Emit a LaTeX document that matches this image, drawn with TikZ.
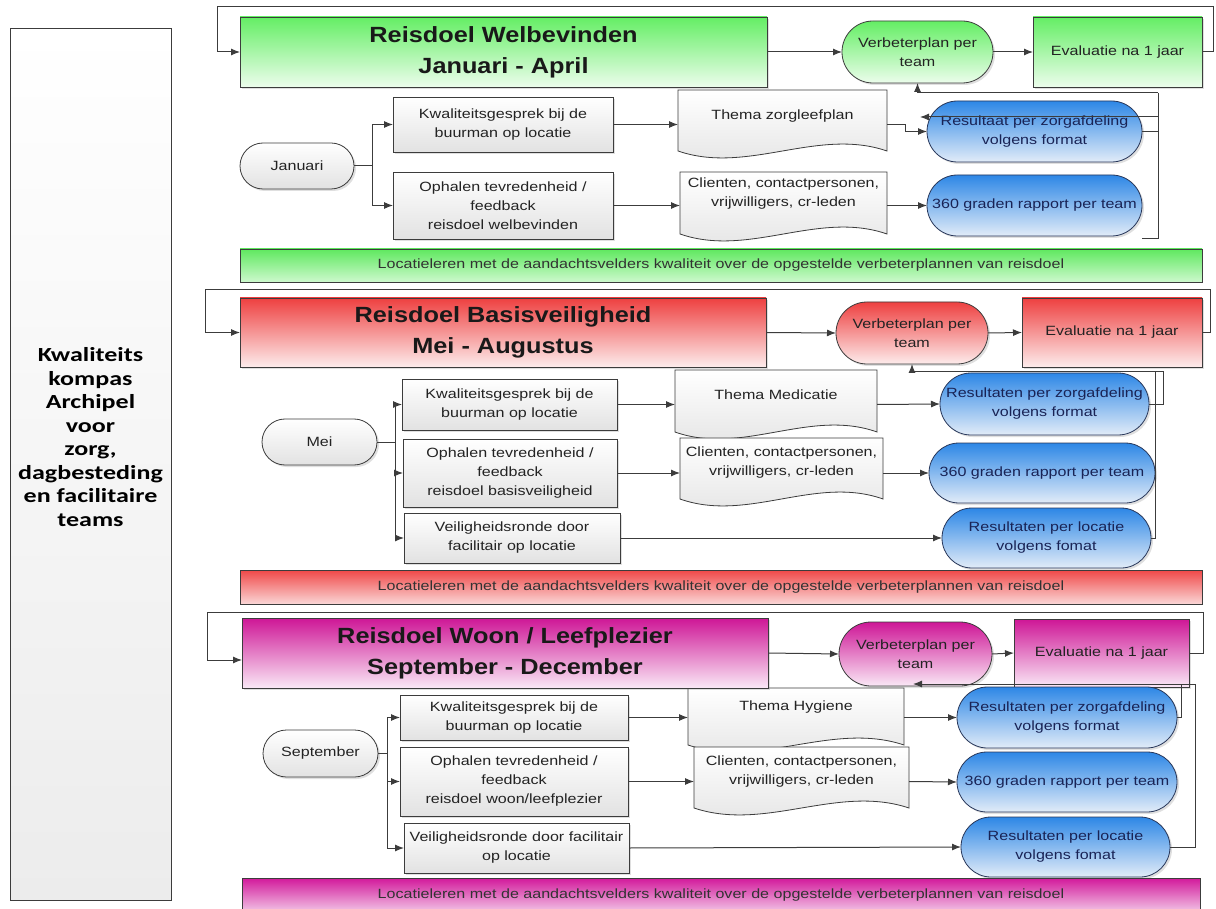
\documentclass[tikz,border=0pt]{standalone}
\usepackage{fontspec}
\setmainfont{Liberation Sans}
\newfontfamily\boxfont{Liberation Sans}[FakeStretch=1.2]
\newfontfamily\titlefont{Liberation Sans}[FakeStretch=1.15]
\newfontfamily\sidefont{Carlito}[FakeStretch=1.3]
\usetikzlibrary{shapes.misc,arrows.meta,shadows,calc}
\pgfdeclarelayer{back}
\pgfdeclarelayer{bg}
\pgfsetlayers{back,bg,main}
\definecolor{linec}{RGB}{60,60,60}
\definecolor{txt}{RGB}{35,35,35}
\definecolor{boxbot}{RGB}{226,226,226}
\definecolor{gT}{RGB}{100,238,100}\definecolor{gB}{RGB}{236,253,236}
\definecolor{rT}{RGB}{238,64,64}\definecolor{rB}{RGB}{253,236,236}
\definecolor{mT}{RGB}{206,22,150}\definecolor{mB}{RGB}{250,232,246}
\definecolor{bT}{RGB}{45,135,230}\definecolor{bB}{RGB}{226,236,248}
\definecolor{bline}{RGB}{40,55,90}
\definecolor{btxt}{RGB}{25,35,85}
\definecolor{gbT}{RGB}{95,232,95}\definecolor{gbB}{RGB}{205,249,205}
\definecolor{rbT}{RGB}{240,72,72}\definecolor{rbB}{RGB}{250,214,214}
\definecolor{mbT}{RGB}{210,25,155}\definecolor{mbB}{RGB}{242,198,230}
\newcommand{\docshape}[3]{%
\begin{pgfonlayer}{bg}
\coordinate (dsT) at (0,#2);
\coordinate (dsR) at (#1.east |- dsT);
\coordinate (dsL) at (#1.west |- dsT);
\shade[top color=white,bottom color=boxbot,draw=linec,line width=0.8pt]
 (#1.north west) -- (#1.north east) -- (dsR)
 .. controls ($(dsR)!0.333!(dsL)+(0,-#3)$) and ($(dsR)!0.667!(dsL)+(0,#3)$) .. (dsL) -- cycle;
\end{pgfonlayer}}
\tikzset{
 every node/.style={inner sep=0pt, outer sep=0pt, align=center, text=txt,
   font=\boxfont\fontsize{13.4}{19}\selectfont},
 line/.style={draw=linec, line width=1pt},
 arr/.style={line, -{Latex[length=9pt,width=7pt]}},
 shad/.style={drop shadow={shadow xshift=2pt, shadow yshift=-2pt, opacity=0.25}},
 gbox/.style={rectangle, draw=linec, line width=0.8pt, top color=white, bottom color=boxbot, shad},
 gstad/.style={gbox},
 doc/.style={rectangle, draw=none},
 bstad/.style={rectangle, draw=bline, line width=0.8pt, top color=bT, bottom color=bB, text=btxt, shad},
 tbox/.style={rectangle, draw=linec, line width=0.8pt, text={rgb,255:red,25;green,25;blue,25},
   font=\titlefont\bfseries\fontsize{22}{31}\selectfont, shad},
 ebox/.style={rectangle, draw=linec, line width=0.8pt, shad},
 stad/.style={rectangle, draw=linec, line width=0.8pt, shad},
 bar/.style={rectangle, draw=linec, line width=0.8pt, text={rgb,255:red,50;green,50;blue,50}},
 greenfill/.style={top color=gT, bottom color=gB},
 redfill/.style={top color=rT, bottom color=rB},
 magfill/.style={top color=mT, bottom color=mB},
 greenbar/.style={top color=gbT, bottom color=gbB},
 redbar/.style={top color=rbT, bottom color=rbB},
 magbar/.style={top color=mbT, bottom color=mbB},
}
\begin{document}
\begin{tikzpicture}[x=1pt,y=-1pt]
\begin{pgfonlayer}{back}
\fill[white] (0,0) rectangle (1216,909);
\end{pgfonlayer}
\useasboundingbox (0,0) rectangle (1216,909);

% left panel
\node[rectangle, draw=linec, line width=0.8pt, top color=white, bottom color={rgb,255:red,236;green,236;blue,236},
  minimum width=161pt, minimum height=872pt] (L) at (90.5,464) {};
\node[font=\sidefont\bfseries\fontsize{20}{23.5}\selectfont, text=black] (Lt) at ($(L.center)+(0,-27)$)
  {Kwaliteits\\kompas\\Archipel\\voor\\zorg,\\dagbesteding\\en facilitaire\\teams};

% ================= Section 1 =================
\node[tbox, greenfill, minimum width=527pt, minimum height=70pt] (T1) at (503.5,52) {Reisdoel Welbevinden\\Januari - April};
\node[stad, greenfill, minimum width=151pt, minimum height=62pt, rounded corners=31pt] (V1) at (917.5,52) {Verbeterplan per\\team};
\node[ebox, greenfill, minimum width=169pt, minimum height=70pt] (E1) at (1117.5,52) {Evaluatie na 1 jaar};
\node[gstad, minimum width=114pt, minimum height=46pt, rounded corners=23pt] (J1) at (297,166) {Januari};
\node[gbox, minimum width=220pt, minimum height=55pt] (K1) at (503,124.5) {Kwaliteitsgesprek bij de\\buurman op locatie};
\node[gbox, minimum width=220pt, minimum height=67pt] (O1) at (503,205.5) {Ophalen tevredenheid /\\feedback\\reisdoel welbevinden};
\node[doc, minimum width=209pt, minimum height=52pt] (D1) at (782.5,116) {Thema zorgleefplan};
\node[doc, minimum width=207pt, minimum height=44pt] (D2) at (783.5,194) {Clienten, contactpersonen,\\vrijwilligers, cr-leden};
\docshape{D1}{151}{24}
\docshape{D2}{234}{24}
\node[bstad, minimum width=215pt, minimum height=61pt, rounded corners=30.5pt] (R1) at (1034.5,131.5) {Resultaat per zorgafdeling\\volgens format};
\node[bstad, minimum width=215pt, minimum height=61pt, rounded corners=30.5pt] (G1) at (1034.5,205.5) {360 graden rapport per team};
\node[bar, greenbar, minimum width=962pt, minimum height=33pt] (B1) at (721,265.5) {Locatieleren met de aandachtsvelders kwaliteit over de opgestelde verbeterplannen van reisdoel};

\coordinate (c1a) at (1213,7); \coordinate (c1b) at (217,7);
\draw[arr] (E1.east) -| (c1a) -- (c1b) |- (T1.west);
\draw[arr] (T1.east) -- (V1.west);
\draw[arr] (V1.east) -- (E1.west);
\coordinate (j1) at (372,166);
\draw[arr] (J1.east) -- (j1) |- (K1.west);
\draw[arr] (j1) |- (O1.west);
\draw[arr] (K1.east) -- (K1.east -| D1.west);
\draw[arr] (O1.east) -- (O1.east -| D2.west);
\coordinate (d1r) at (905,124.5);
\draw[arr] (K1.east -| D1.east) -- (d1r) |- (R1.west);
\draw[arr] (O1.east -| D2.east) -- (G1.west);
\coordinate (f1t) at (1158,93); \coordinate (f1b) at (1158,239);
\coordinate (f1m) at (1158,117); \coordinate (f1e) at (920,117);
\draw[line] (R1.east) -- (R1.east -| f1t);
\draw[line] (f1b -| G1.east) -- (f1b) -- (f1t);
\draw[arr] (f1t) -| (V1.south);
\draw[arr] (f1m) -- (f1e);

% ================= Section 2 =================
\node[tbox, redfill, minimum width=526pt, minimum height=69pt] (T2) at (503,332.5) {Reisdoel Basisveiligheid\\Mei - Augustus};
\node[stad, redfill, minimum width=152pt, minimum height=62pt, rounded corners=31pt] (V2) at (912,333) {Verbeterplan per\\team};
\node[ebox, redfill, minimum width=180pt, minimum height=69pt] (E2) at (1112,332.5) {Evaluatie na 1 jaar};
\node[gstad, minimum width=115pt, minimum height=46pt, rounded corners=23pt] (M2) at (319.5,442) {Mei};
\node[gbox, minimum width=215pt, minimum height=51pt] (K2) at (509.5,404.5) {Kwaliteitsgesprek bij de\\buurman op locatie};
\node[gbox, minimum width=214pt, minimum height=68pt] (O2) at (510,473) {Ophalen tevredenheid /\\feedback\\reisdoel basisveiligheid};
\node[gbox, minimum width=216pt, minimum height=50pt] (S2) at (512,538) {Veiligheidsronde door\\facilitair op locatie};
\node[doc, minimum width=202pt, minimum height=50pt] (D3) at (776,395) {Thema Medicatie};
\node[doc, minimum width=203pt, minimum height=50pt] (D4) at (781.5,463) {Clienten, contactpersonen,\\vrijwilligers, cr-leden};
\docshape{D3}{432}{24}
\docshape{D4}{499}{24}
\node[bstad, minimum width=209pt, minimum height=62pt, rounded corners=31pt] (R2) at (1044.5,404) {Resultaten per zorgafdeling\\volgens format};
\node[bstad, minimum width=226pt, minimum height=60pt, rounded corners=30pt] (G2) at (1042,473) {360 graden rapport per team};
\node[bstad, minimum width=209pt, minimum height=60pt, rounded corners=30pt] (P2) at (1046.5,538) {Resultaten per locatie\\volgens fomat};
\node[bar, redbar, minimum width=962pt, minimum height=34pt] (B2) at (721,587) {Locatieleren met de aandachtsvelders kwaliteit over de opgestelde verbeterplannen van reisdoel};

\coordinate (c2a) at (1210,290); \coordinate (c2b) at (205,290);
\draw[arr] (E2.east) -| (c2a) -- (c2b) |- (T2.west);
\draw[arr] (T2.east) -- (V2.west);
\draw[arr] (V2.east) -- (E2.west);
\coordinate (j2) at (395,442);
\draw[arr] (M2.east) -- (j2) |- (K2.west);
\draw[arr] (j2) |- (O2.west);
\draw[arr] (j2) |- (S2.west);
\draw[arr] (K2.east) -- (K2.east -| D3.west);
\draw[arr] (O2.east) -- (O2.east -| D4.west);
\draw[arr] (K2.east -| D3.east) -- (R2.west);
\draw[arr] (O2.east -| D4.east) -- (G2.west);
\draw[arr] (S2.east) -- (P2.west);
\coordinate (f2t) at (1155,372); \coordinate (f2s) at (1163,372);
\draw[arr] (P2.east) -| (f2t) -| (V2.south);
\draw[line] (R2.east) -| (f2s) -- (f2t);

% ================= Section 3 =================
\node[tbox, magfill, minimum width=526pt, minimum height=70pt] (T3) at (505,653) {Reisdoel Woon / Leefplezier\\September - December};
\node[stad, magfill, minimum width=153pt, minimum height=64pt, rounded corners=32pt] (V3) at (915.5,654) {Verbeterplan per\\team};
\node[ebox, magfill, minimum width=175pt, minimum height=68pt] (E3) at (1101.5,653) {Evaluatie na 1 jaar};
\node[gstad, minimum width=115pt, minimum height=47pt, rounded corners=23.5pt] (S3) at (320.5,753.5) {September};
\node[gbox, minimum width=228pt, minimum height=45pt] (K3) at (514,717.5) {Kwaliteitsgesprek bij de\\buurman op locatie};
\node[gbox, minimum width=228pt, minimum height=69pt] (O3) at (514,781.5) {Ophalen tevredenheid /\\feedback\\reisdoel woon/leefplezier};
\node[gbox, minimum width=225pt, minimum height=50pt] (Q3) at (516.5,848) {Veiligheidsronde door facilitair\\op locatie};
\node[doc, minimum width=216pt, minimum height=38pt] (D5) at (796,707) {Thema Hygiene};
\node[doc, minimum width=215pt, minimum height=50pt] (D6) at (801.5,772) {Clienten, contactpersonen,\\vrijwilligers, cr-leden};
\docshape{D5}{745}{24}
\docshape{D6}{808}{24}
\node[bstad, minimum width=220pt, minimum height=61pt, rounded corners=30.5pt] (R3) at (1067,717.5) {Resultaten per zorgafdeling\\volgens format};
\node[bstad, minimum width=220pt, minimum height=60pt, rounded corners=30pt] (G3) at (1067,782) {360 graden rapport per team};
\node[bstad, minimum width=209pt, minimum height=60pt, rounded corners=30pt] (P3) at (1065.5,847) {Resultaten per locatie\\volgens fomat};
\node[bar, magbar, minimum width=958pt, minimum height=34pt] (B3) at (721,895) {Locatieleren met de aandachtsvelders kwaliteit over de opgestelde verbeterplannen van reisdoel};

\coordinate (c3a) at (1203,612); \coordinate (c3b) at (207,612); \coordinate (c3c) at (207,660);
\draw[arr] (E3.east) -| (c3a) -- (c3b) -- (c3c) -- (c3c -| T3.west);
\draw[arr] (T3.east) -- (V3.west);
\draw[arr] (V3.east) -- (E3.west);
\coordinate (j3) at (387,753.5);
\draw[arr] (S3.east) -- (j3) |- (K3.west);
\draw[arr] (j3) |- (O3.west);
\draw[arr] (j3) |- (Q3.west);
\draw[arr] (K3.east) -- (K3.east -| D5.west);
\draw[arr] (O3.east) -- (O3.east -| D6.west);
\draw[arr] (K3.east -| D5.east) -- (R3.west);
\draw[arr] (O3.east -| D6.east) -- (G3.west);
\draw[arr] (Q3.east) -- (P3.west);
\coordinate (f3t) at (1195,684); \coordinate (f3e) at (913,684); \coordinate (f3s) at (1181,684);
\draw[arr] (P3.east) -| (f3t) -- (f3e);
\draw[line] (R3.east) -| (f3s);
\end{tikzpicture}
\end{document}
